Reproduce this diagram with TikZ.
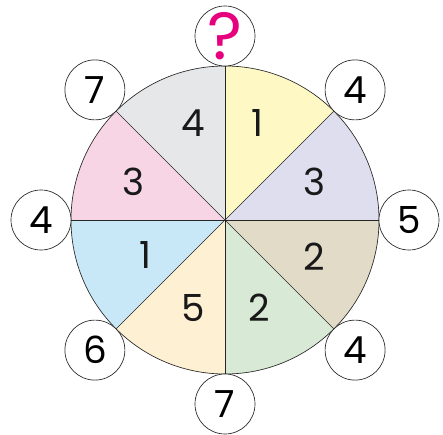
\documentclass[tikz,border=0pt]{standalone}
\usepackage{fontspec}
\setmainfont{Poppins}
\usepackage{tikz}

\definecolor{secyellow}{HTML}{FEF9C4}
\definecolor{seclavender}{HTML}{DFDEEF}
\definecolor{secbeige}{HTML}{E2DBC8}
\definecolor{secgreen}{HTML}{D8EAD5}
\definecolor{secpeach}{HTML}{FEF0D3}
\definecolor{secblue}{HTML}{C8E8F8}
\definecolor{secpink}{HTML}{F8D5E5}
\definecolor{secgrey}{HTML}{E6E7E8}
\definecolor{qmagenta}{HTML}{E6007E}

\begin{document}
\begin{tikzpicture}[
    spoke/.style={draw=black!85, line width=0.5pt},
    tip/.style={circle, draw=black!85, line width=0.5pt, fill=white, minimum size=45pt, inner sep=0pt, font=\fontsize{28}{32}\selectfont},
    num/.style={font=\fontsize{28}{32}\selectfont, text=black!90}
]
  \useasboundingbox (-168.75pt,-161.25pt) rectangle (163.5pt,165pt);
  \coordinate (c) at (0,0);
  % Sectors
  \fill[secyellow]   (c) -- (90:115.5pt)   arc[start angle=90,   end angle=45,   radius=115.5pt] -- cycle;
  \fill[seclavender] (c) -- (45:115.5pt)   arc[start angle=45,   end angle=0,    radius=115.5pt] -- cycle;
  \fill[secbeige]    (c) -- (0:115.5pt)    arc[start angle=0,    end angle=-45,  radius=115.5pt] -- cycle;
  \fill[secgreen]    (c) -- (-45:115.5pt)  arc[start angle=-45,  end angle=-90,  radius=115.5pt] -- cycle;
  \fill[secpeach]    (c) -- (-90:115.5pt)  arc[start angle=-90,  end angle=-135, radius=115.5pt] -- cycle;
  \fill[secblue]     (c) -- (-135:115.5pt) arc[start angle=-135, end angle=-180, radius=115.5pt] -- cycle;
  \fill[secpink]     (c) -- (180:115.5pt)  arc[start angle=180,  end angle=135,  radius=115.5pt] -- cycle;
  \fill[secgrey]     (c) -- (135:115.5pt)  arc[start angle=135,  end angle=90,   radius=115.5pt] -- cycle;
  \draw[spoke] (c) circle[radius=115.5pt];
  % Outer circles
  \node[tip] (q)  at (90:138pt)   {\fontsize{50}{54}\selectfont\color{qmagenta}?};
  \node[tip] (o1) at (45:138pt)   {4};
  \node[tip] (o2) at (0:138pt)    {5};
  \node[tip] (o3) at (-45:138pt)  {4};
  \node[tip] (o4) at (-90:138pt)  {7};
  \node[tip] (o5) at (-135:138pt) {6};
  \node[tip] (o6) at (180:138pt)  {4};
  \node[tip] (o7) at (135:138pt)  {7};
  % Spokes
  \draw[spoke] (c) -- (q);
  \draw[spoke] (c) -- (o1);
  \draw[spoke] (c) -- (o2);
  \draw[spoke] (c) -- (o3);
  \draw[spoke] (c) -- (o4);
  \draw[spoke] (c) -- (o5);
  \draw[spoke] (c) -- (o6);
  \draw[spoke] (c) -- (o7);
  % Sector numbers
  \node[num] (s1) at (24pt,72.75pt)     {1};
  \node[num] (s2) at (66.75pt,28.5pt)   {3};
  \node[num] (s3) at (66.75pt,-27.75pt) {2};
  \node[num] (s4) at (25.5pt,-66pt)     {2};
  \node[num] (s5) at (-24pt,-66pt)      {5};
  \node[num] (s6) at (-60pt,-26.25pt)   {1};
  \node[num] (s7) at (-69pt,28.5pt)     {3};
  \node[num] (s8) at (-24pt,72.75pt)    {4};
\end{tikzpicture}
\end{document}
